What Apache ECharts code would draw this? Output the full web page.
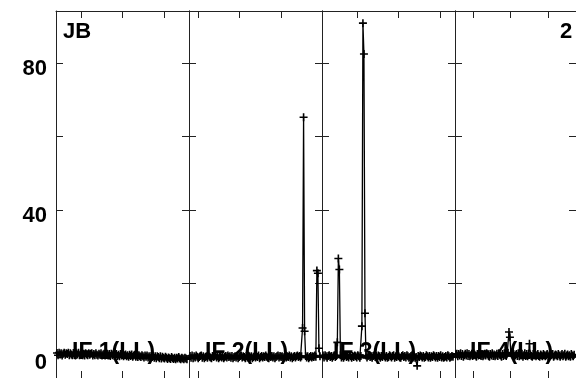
<!DOCTYPE html>
<html>
<head>
<meta charset="utf-8">
<script src="https://cdn.jsdelivr.net/npm/echarts@6/dist/echarts.min.js"></script>
<style>html,body{margin:0;padding:0;background:#fff}#c{width:576px;height:378px}</style>
</head>
<body>
<div id="c"></div>
<script>
// ---- data (per-IF amplitude values, one per channel) ----
const panelNames = ['IF 1(LL)', 'IF 2(LL)', 'IF 3(LL)', 'IF 4(LL)'];
const if1 = [
  1.1,0.5,1.2,0.7,1.0,0.4,0.9,1.2,0.6,1.0,0.8,1.2,0.5,1.0,0.7,0.5,
  1.1,0.8,0.4,1.0,0.7,1.2,0.5,0.8,1.1,0.5,0.9,0.4,1.0,0.7,0.5,1.0,
  0.6,0.9,1.0,0.4,0.8,0.5,1.0,0.6,0.4,0.9,0.6,1.0,0.4,0.7,0.9,0.4,
  0.7,0.9,0.4,0.8,0.3,0.9,0.5,0.8,0.3,0.6,0.8,0.3,0.6,0.2,0.8,0.4,
  0.6,0.2,0.5,0.7,0.2,0.5,0.1,0.6,0.3,0.7,0.1,0.4,0.6,0.1,0.4,0.0,
  0.5,0.2,0.0,0.5,0.2,-0.1,0.4,0.1,0.4,-0.1,0.2,-0.2,0.3,0.0,0.3,-0.2,
  0.2,-0.3,0.2,0.0,-0.3,0.2,-0.4,0.1,-0.2,-0.4,0.1,-0.2,-0.5,-0.1,-0.3,-0.5,
  0.0,-0.3,-0.5,-0.2,-0.6,-0.2,-0.4,0.0,-0.4,-0.6,-0.2,-0.4,-0.6,-0.2,-0.4,-0.6];
const if2 = [
  0.3,-0.2,0.4,-0.3,0.2,-0.1,0.4,0.1,-0.3,0.0,0.3,0.4,-0.2,0.2,-0.3,0.0,
  0.2,-0.2,0.4,0.1,-0.1,-0.3,0.3,0.0,0.2,0.4,-0.1,0.2,-0.3,0.0,0.3,-0.1,
  0.2,-0.3,0.0,0.3,-0.1,0.4,0.0,0.2,-0.2,0.3,-0.3,0.0,0.2,-0.1,0.3,-0.3,
  0.0,0.3,0.4,-0.1,0.2,0.0,-0.3,0.3,-0.1,0.4,0.2,-0.1,0.2,-0.3,0.0,0.3,
  -0.1,0.2,0.0,0.4,-0.3,0.0,0.3,-0.1,0.2,0.0,0.4,0.1,-0.2,-0.3,0.2,0.0,
  0.3,-0.1,0.2,-0.3,0.0,0.2,0.4,-0.1,0.3,0.0,0.2,-0.3,0.0,0.3,-0.1,0.2,
  0.0,0.4,-0.1,0.2,-0.3,0.0,0.3,-0.1,0.2,0.4,0.0,0.3,-0.1,0.2,7.9,65.2,
  7.0,0.3,-0.1,0.2,-0.3,0.0,0.3,-0.1,0.2,0.0,0.4,0.1,23.5,22.8,2.4,0.2];
const if3 = [
  0.4,-0.1,0.5,0.2,-0.2,0.3,0.5,0.0,0.3,-0.2,0.2,0.5,0.0,0.3,4.0,26.8,
  23.8,0.5,-0.1,0.3,-0.2,0.2,0.5,0.0,0.3,-0.1,0.5,0.2,-0.2,0.3,0.0,0.4,
  0.2,-0.1,0.5,0.2,-0.2,0.3,8.4,90.8,82.4,11.9,0.4,-0.1,0.3,0.5,0.0,0.2,
  -0.2,0.3,0.5,0.0,0.3,-0.1,0.4,0.2,-0.2,0.3,0.0,0.5,0.2,-0.1,0.3,-0.2,
  0.0,0.5,0.2,-0.1,0.3,0.5,-0.2,0.2,0.0,0.4,0.2,-0.1,-0.2,0.3,0.5,0.0,
  0.3,-0.1,0.5,0.2,-0.2,0.0,0.3,0.5,-0.1,0.2,-0.2,0.0,-2.4,0.3,0.0,0.4,
  0.2,-0.1,0.3,-0.2,0.0,0.5,0.2,-0.1,0.3,-0.2,0.2,0.0,0.5,0.2,-0.1,0.3,
  -0.2,0.3,0.0,0.5,-0.1,0.2,-0.2,0.0,0.3,-0.1,0.5,0.2,-0.2,0.0,0.3,0.1];
const if4 = [
  0.7,0.9,0.2,0.8,0.4,1.0,0.3,0.8,0.1,0.5,0.9,0.4,1.0,0.3,0.8,0.2,
  0.5,0.9,0.3,1.0,0.7,0.4,0.1,0.8,0.4,1.0,0.7,0.3,0.8,0.2,0.5,0.9,
  0.4,1.0,0.7,0.3,0.1,0.8,0.4,1.0,0.3,0.7,0.2,0.5,0.9,0.3,1.0,0.6,
  0.4,0.1,0.8,0.3,1.0,0.6,0.3,0.9,1.2,6.8,5.4,1.0,0.7,0.3,0.8,0.2,
  0.5,0.8,0.3,1.0,0.2,0.7,0.4,0.9,0.1,0.5,1.0,0.3,0.8,0.2,0.9,3.6,
  0.7,0.3,0.1,0.8,0.4,0.9,0.2,0.5,0.8,0.3,0.1,0.7,0.4,0.2,0.8,0.5,
  0.2,0.5,0.8,0.1,0.4,0.2,0.9,0.5,0.8,0.1,0.4,0.7,0.5,0.2,0.8,0.4,
  0.1,0.5,0.8,0.2,0.5,0.9,0.1,0.4,0.7,0.2,0.5,0.1,0.8,0.4,0.2,0.6];
const panels = [if1, if2, if3, if4];
// x tick positions (channel units) in each panel
const xTicks1 = [24.4, 65.0, 105.6];
const xTicks2 = [8.8, 49.4, 90.0];
const xTicks3 = [34.2, 75.0, 115.3];
const xTicks4 = [19.5, 59.6, 99.7];
const xTicks = [xTicks1, xTicks2, xTicks3, xTicks4];
const yTicks = [0, 20, 40, 60, 80];
const yLabels = [0, 40, 80];
const leftLabel = 'JB';
const rightLabel = '2';

// ---- layout ----
const X_MIN = 0, X_MAX = 130;
const Y_MIN = -5.7, Y_MAX = 94.1;
const PANEL_LEFT = 56, PANEL_W = 133, PANEL_TOP = 11, PANEL_H = 368;
const FONT = '"Liberation Sans", Arial, Helvetica, sans-serif';
const AX = '#222';
const plus = 'path://M0,3.2H8V4.8H0Z M3.2,0H4.8V8H3.2Z';

const grid = [], xAxis = [], yAxis = [], series = [], graphic = [];
const textX = [72, 205, 333, 470];

panels.forEach((vals, k) => {
  grid.push({left: PANEL_LEFT + PANEL_W * k, top: PANEL_TOP, width: PANEL_W, height: PANEL_H});
  ['bottom', 'top'].forEach(pos => {
    xAxis.push({
      type: 'value', gridIndex: k, position: pos, min: X_MIN, max: X_MAX,
      axisLine: {show: true, onZero: false, lineStyle: {color: AX, width: 1}},
      axisTick: {show: true, inside: true, length: 7, customValues: xTicks[k], lineStyle: {color: AX, width: 1}},
      axisLabel: {show: false}, splitLine: {show: false}
    });
  });
  ['left', 'right'].forEach(pos => {
    const showLab = (k === 0 && pos === 'left');
    yAxis.push({
      type: 'value', gridIndex: k, position: pos, min: Y_MIN, max: Y_MAX,
      axisLine: {show: true, onZero: false, lineStyle: {color: AX, width: 1}},
      axisTick: {show: true, inside: true, length: 7, customValues: yTicks, lineStyle: {color: AX, width: 1}},
      axisLabel: showLab ? {show: true, customValues: yLabels, margin: 9, color: '#000',
        fontFamily: FONT, fontWeight: 'bold', fontSize: 22, verticalAlign: 'top', lineHeight: 12} : {show: false},
      splitLine: {show: false}
    });
  });
  const pts = vals.map((v, i) => [i + 1, v]);
  if (k < panels.length - 1) {
    // connector to the first channel of the next IF
    pts.push({value: [X_MAX + 1, panels[k + 1][0]], symbol: 'none'});
  }
  series.push({
    type: 'line', xAxisIndex: 2 * k, yAxisIndex: 2 * k, data: pts,
    symbol: plus, symbolSize: 8, clip: false, silent: true,
    lineStyle: {color: '#000', width: 1.3}, itemStyle: {color: '#000'},
    emphasis: {disabled: true}, z: 3
  });
  graphic.push({type: 'text', x: textX[k], y: 353, z: 10,
    style: {text: panelNames[k], fill: '#000', font: 'bold 23px ' + FONT, align: 'left', verticalAlign: 'middle'}});
});
graphic.push({type: 'text', x: 63, y: 32, z: 10,
  style: {text: leftLabel, fill: '#000', font: 'bold 22px ' + FONT, align: 'left', verticalAlign: 'middle'}});
graphic.push({type: 'text', x: 560, y: 32, z: 10,
  style: {text: rightLabel, fill: '#000', font: 'bold 22px ' + FONT, align: 'left', verticalAlign: 'middle'}});

const chart = echarts.init(document.getElementById('c'), null, {renderer: 'canvas'});
chart.setOption({animation: false, backgroundColor: '#fff', grid, xAxis, yAxis, series, graphic});
</script>
</body>
</html>
